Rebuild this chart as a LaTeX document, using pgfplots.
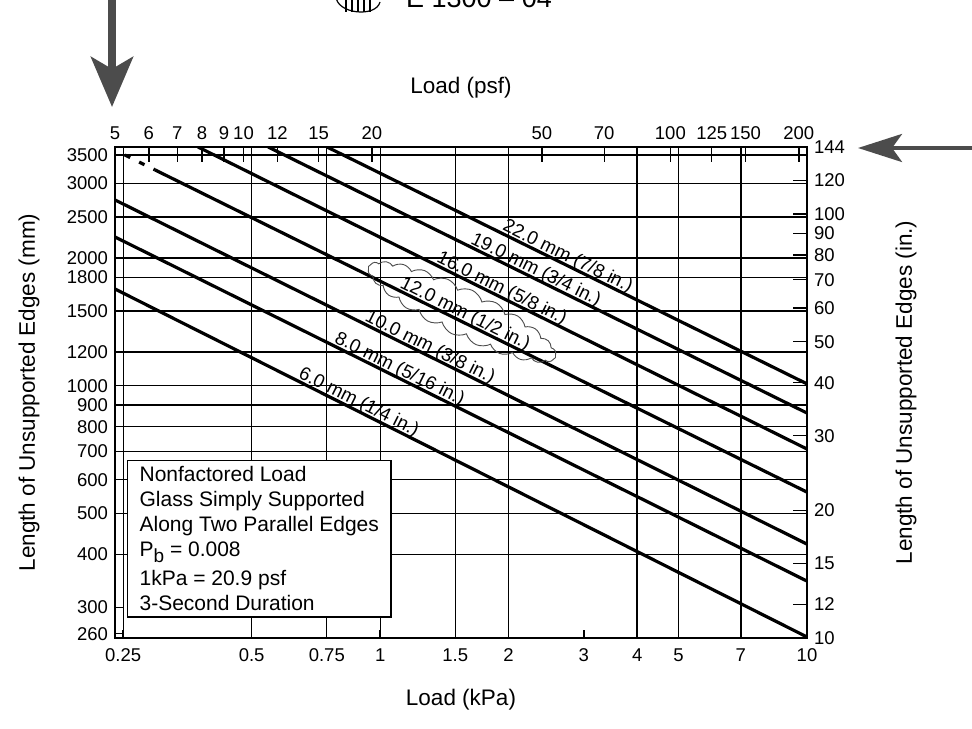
\documentclass[border=0pt]{standalone}
\usepackage{fontspec}
\setmainfont{Liberation Sans}
\usepackage{pgfplots}
\pgfplotsset{compat=1.18}
\usetikzlibrary{arrows.meta,shapes.symbols}
\pgfplotsset{
  myaxbase/.style={at={(57.5pt,45pt)}, anchor=south west, width=346pt, height=245.5pt,
    scale only axis, xminorticks=false, yminorticks=false,
    tick label style={font=\fontsize{9.25}{10}\selectfont, text=black},
    label style={font=\fontsize{11.25}{13}\selectfont},
    axis line style={line width=0.8pt},
    tick style={line width=0.7pt, black},
    tick align=inside,
    /pgf/number format/assume math mode=true}
}
\tikzset{lbl/.style={sloped, above, inner sep=0pt, yshift=-1.2pt, font=\fontsize{9.4}{10}\selectfont}}

\begin{document}
\begin{tikzpicture}[x=1pt,y=1pt]
\useasboundingbox (0,0) rectangle (486,364);
% ---------------- main axis (kPa / mm)
\begin{axis}[myaxbase, xmode=log, ymode=log,
  xmin=0.23923, xmax=10, ymin=254, ymax=3657.6,
  xtick={0.25,0.5,0.75,1,1.5,2,3,4,5,7,10},
  xticklabels={0.25,0.5,0.75,1,1.5,2,3,4,5,7,10},
  ytick={260,300,400,500,600,700,800,900,1000,1200,1500,1800,2000,2500,3000,3500},
  yticklabels={260,300,400,500,600,700,800,900,1000,1200,1500,1800,2000,2500,3000,3500},
  xtick pos=bottom, ytick pos=left, major tick length=4pt,
  xticklabel style={yshift=-2pt},
  extra x ticks={0.25,0.5,0.75,1,1.5,2,4,5,7}, extra x tick labels={},
  extra x tick style={grid=major, major tick length=0pt},
  extra y ticks={400,500,600,700,800,900,1000,1200,1500,1800,2000,2500,3000,3500}, extra y tick labels={},
  extra y tick style={grid=major, major tick length=0pt},
  major grid style={black, line width=0.65pt},
  xlabel={Load (kPa)}, ylabel={Length of Unsupported Edges (mm)},
  xlabel style={at={(axis description cs:0.5,0)}, anchor=center, yshift=-31pt},
  ylabel style={at={(axis description cs:0,0.5)}, anchor=center, rotate=0, yshift=43pt}]
\addplot[black, line width=1.6pt] coordinates {(0.7507,3657.6) (10,1010)} node[lbl, pos=0.494] {22.0 mm (7/8 in.)};
\addplot[black, line width=1.6pt] coordinates {(0.5465,3657.6) (10,862)} node[lbl, pos=0.49] {19.0 mm (3/4 in.)};
\addplot[black, line width=1.6pt] coordinates {(0.3744,3657.6) (10,709)} node[lbl, pos=0.493] {16.0 mm (5/8 in.)};
\addplot[black, line width=1.6pt] coordinates {(0.2969,3229) (10,561)} node[lbl, pos=0.47] {12.0 mm (1/2 in.)};
\addplot[black, line width=1.6pt, dash pattern=on 3pt off 5pt] coordinates {(0.2522,3502) (0.2969,3229)};
\addplot[black, line width=1.6pt] coordinates {(0.23923,2743) (10,423)} node[lbl, pos=0.45] {10.0 mm (3/8 in.)};
\addplot[black, line width=1.6pt] coordinates {(0.23923,2243) (10,346)} node[lbl, pos=0.406] {8.0 mm (5/16 in.)};
\addplot[black, line width=1.6pt] coordinates {(0.23923,1691) (10,255.4)} node[lbl, pos=0.347] {6.0 mm (1/4 in.)};
\end{axis}
% ---------------- top axis (psf)
\begin{axis}[myaxbase, xmode=log, ymode=log,
  xmin=5, xmax=209, ymin=254, ymax=3657.6,
  axis x line*=top, hide y axis,
  xtick={5,6,7,8,9,10,12,15,20,50,70,100,125,150,200},
  xticklabels={5,6,7,8,9,10,12,15,20,50,70,100,125,150,200},
  major tick length=7.5pt,
  xlabel={Load (psf)},
  xlabel style={at={(axis description cs:0.5,1)}, anchor=center, yshift=29.5pt}]
\end{axis}
% ---------------- right axis (in.)
\begin{axis}[myaxbase, xmode=log, ymode=log,
  xmin=0.23923, xmax=10, ymin=10, ymax=144,
  axis y line*=right, hide x axis,
  ytick={10,12,15,20,30,40,50,60,70,80,90,100,120,144},
  yticklabels={10,12,15,20,30,40,50,60,70,80,90,100,120,144},
  major tick length=7pt,
  ylabel={Length of Unsupported Edges (in.)},
  ylabel style={at={(axis description cs:1,0.5)}, anchor=center, yshift=-49.5pt}]
\end{axis}
% ---------------- note box
\node[draw, line width=0.6pt, fill=white, anchor=north west, inner xsep=6pt, inner ysep=3pt,
  align=left, font=\fontsize{10.5}{12.5}\selectfont] at (63.5,134)
  {Nonfactored Load\\ Glass Simply Supported\\ Along Two Parallel Edges\\
   P\raisebox{-0.55ex}{\fontsize{9.5}{10}\selectfont b} = 0.008\\[2pt]
   1kPa = 20.9 psf\\ 3-Second Duration};
% ---------------- hand-drawn cloud
\node[cloud, draw=black!70, line width=0.45pt, cloud puffs=24, cloud puff arc=100, aspect=4,
  minimum width=104pt, minimum height=24pt, rotate=-26] at (231,208) {};
% ---------------- arrows
\draw[line width=4pt, black!70, -{Stealth[length=25pt, width=21pt, inset=6pt]}] (56,368) -- (56,310.5);
\draw[line width=2pt, black!70, -{Stealth[length=22pt, width=14pt, inset=5pt]}] (490,290) -- (429,290);
% ---------------- cropped header
\node[anchor=base, font=\fontsize{13.5}{14}\selectfont] at (239.5,360) {E 1300 – 04};
\draw[line width=0.6pt] (168,366) .. controls (168,357) and (188,355) .. (190,363);
\foreach \xx in {173,176,179,182,185} {\draw[line width=0.6pt] (\xx,364) -- (\xx,358);}
\end{tikzpicture}
\end{document}
